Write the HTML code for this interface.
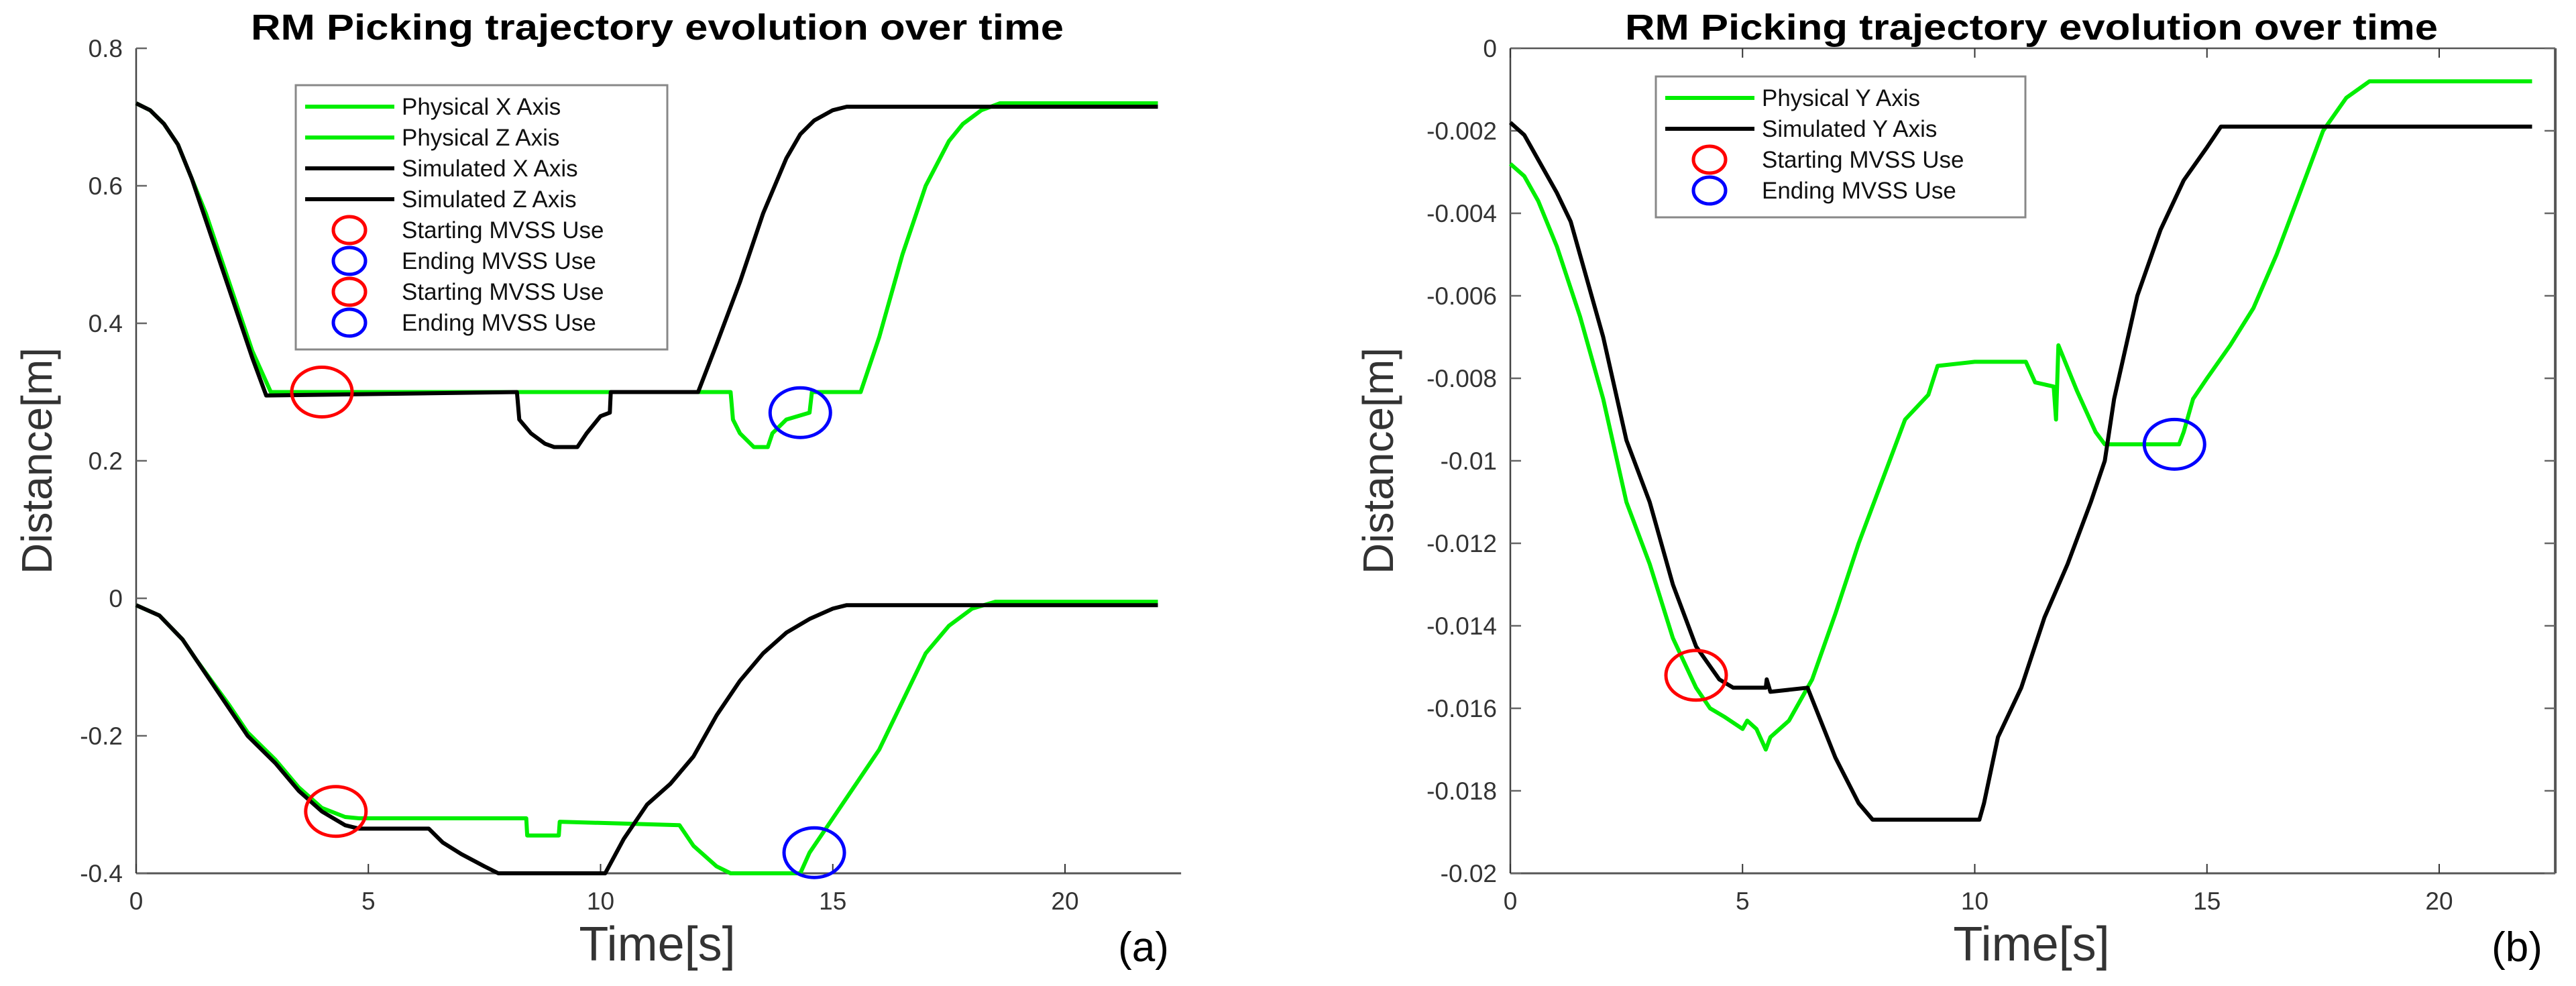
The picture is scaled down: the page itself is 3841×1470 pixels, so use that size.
<!DOCTYPE html>
<html><head><meta charset="utf-8"><style>
html,body{margin:0;padding:0;background:#fff}
svg{display:block;font-family:"Liberation Sans",Arial,sans-serif}
</style></head><body>
<svg id="fig" width="3841" height="1470" viewBox="0 0 3841 1470" xmlns="http://www.w3.org/2000/svg">
<rect width="3841" height="1470" fill="#fff"/>
<g id="pa"></g>
<g id="pb"></g>
</svg>
<script>
// ---- Panel (a) data ----
const simXt=[0,0.3,0.6,0.9,1.2,1.5,2,2.5,2.8,8.2,8.25,8.5,8.8,9.0,9.5,9.7,10.0,10.2,10.22,12.1,12.5,13,13.5,14,14.3,14.6,15,15.3,22];
const simXv=[0.72,0.71,0.69,0.66,0.61,0.55,0.45,0.35,0.295,0.30,0.26,0.24,0.225,0.22,0.22,0.24,0.265,0.27,0.30,0.30,0.37,0.46,0.56,0.64,0.675,0.695,0.71,0.715,0.715];
const phyXt=[0,0.3,0.6,0.9,1.2,1.5,2,2.5,2.9,12.8,12.85,13.0,13.3,13.6,13.7,14.0,14.5,14.55,15.6,16,16.5,17,17.5,17.8,18.2,18.6,22];
const phyXv=[0.72,0.71,0.69,0.66,0.61,0.56,0.46,0.36,0.30,0.30,0.26,0.24,0.22,0.22,0.24,0.26,0.27,0.30,0.30,0.38,0.50,0.60,0.665,0.69,0.71,0.72,0.72];
const simZt=[0,0.5,1,1.3,2,2.4,3,3.5,4,4.5,4.8,6.3,6.6,7,7.5,7.8,10.1,10.5,11,11.5,12,12.5,13,13.5,14,14.5,15,15.3,22];
const simZv=[-0.01,-0.025,-0.06,-0.09,-0.16,-0.20,-0.24,-0.28,-0.31,-0.33,-0.335,-0.335,-0.355,-0.372,-0.39,-0.40,-0.40,-0.35,-0.30,-0.27,-0.23,-0.17,-0.12,-0.08,-0.05,-0.03,-0.015,-0.01,-0.01];
const phyZt=[0,0.5,1,1.3,2,2.4,3,3.5,4,4.5,4.8,8.4,8.42,9.1,9.12,11.7,12,12.5,12.8,14.3,14.5,15,15.5,16,16.5,17,17.5,18,18.5,22];
const phyZv=[-0.01,-0.025,-0.06,-0.09,-0.155,-0.195,-0.235,-0.275,-0.305,-0.318,-0.32,-0.32,-0.345,-0.345,-0.325,-0.33,-0.36,-0.39,-0.40,-0.40,-0.37,-0.32,-0.27,-0.22,-0.15,-0.08,-0.04,-0.015,-0.005,-0.005];
const markAt=[4,14.3,4.3,14.6];
const markAv=[0.30,0.27,-0.31,-0.37];
const markAc=['#ff0000','#0000ff','#ff0000','#0000ff'];
const ticksA=[0.8,0.6,0.4,0.2,0,-0.2,-0.4];
const tickLabA=['0.8','0.6','0.4','0.2','0','-0.2','-0.4'];
const ticksX=[0,5,10,15,20];
// ---- Panel (b) data ----
const simYt=[0,0.3,0.6,1,1.3,2,2.5,3,3.5,4,4.5,4.8,5.5,5.52,5.6,6.4,7,7.5,7.8,10.1,10.2,10.5,11,11.5,12,12.5,12.8,13,13.5,14,14.5,15,15.3,22];
const simYv=[-0.0018,-0.0021,-0.0027,-0.0035,-0.0042,-0.0070,-0.0095,-0.0110,-0.0130,-0.0145,-0.0153,-0.0155,-0.0155,-0.0153,-0.0156,-0.0155,-0.0172,-0.0183,-0.0187,-0.0187,-0.0183,-0.0167,-0.0155,-0.0138,-0.0125,-0.0110,-0.0100,-0.0085,-0.0060,-0.0044,-0.0032,-0.0024,-0.0019,-0.0019];
const phyYt=[0,0.3,0.6,1,1.5,2,2.5,3,3.5,4,4.3,4.6,5,5.1,5.3,5.5,5.6,6,6.5,7,7.5,8,8.5,9,9.2,10,11.1,11.3,11.7,11.75,11.8,12.2,12.6,12.8,14.4,14.5,14.7,15,15.5,16,16.5,17,17.5,18,18.5,22];
const phyYv=[-0.0028,-0.0031,-0.0037,-0.0048,-0.0065,-0.0085,-0.0110,-0.0125,-0.0143,-0.0155,-0.0160,-0.0162,-0.0165,-0.0163,-0.0165,-0.0170,-0.0167,-0.0163,-0.0153,-0.0137,-0.0120,-0.0105,-0.0090,-0.0084,-0.0077,-0.0076,-0.0076,-0.0081,-0.0082,-0.0090,-0.0072,-0.0083,-0.0093,-0.0096,-0.0096,-0.0093,-0.0085,-0.0080,-0.0072,-0.0063,-0.0050,-0.0035,-0.0020,-0.0012,-0.0008,-0.0008];
const markBt=[4,14.3];
const markBv=[-0.0152,-0.0096];
const markBc=['#ff0000','#0000ff'];
const ticksB=[0,-0.002,-0.004,-0.006,-0.008,-0.01,-0.012,-0.014,-0.016,-0.018,-0.02];
const tickLabB=['0','-0.002','-0.004','-0.006','-0.008','-0.01','-0.012','-0.014','-0.016','-0.018','-0.02'];

const NS='http://www.w3.org/2000/svg';
function mk(parent,tag,attrs,text){const e=document.createElementNS(NS,tag);for(const k in attrs)e.setAttribute(k,attrs[k]);if(text!==undefined)e.textContent=text;parent.appendChild(e);return e;}

function panel(g,o){
  const X0=o.x0,X1=o.x0+22.5*69.25,Y0=72,Y1=1302;
  const sx=t=>X0+t*69.25;
  const sy=v=>Y0+(o.ymax-v)/(o.ymax-o.ymin)*(Y1-Y0);
  let a=mk(g,'line',{x1:X0,y1:Y0,x2:X0,y2:Y1,stroke:'#444','stroke-width':2.5});
  
  
  a=mk(g,'line',{x1:X0,y1:Y1,x2:X1,y2:Y1,stroke:'#555','stroke-width':3});
  
  
  if(o.box){
    a=mk(g,'line',{x1:X0,y1:Y0,x2:X1,y2:Y0,stroke:'#555','stroke-width':2.5});
    
    
    a=mk(g,'line',{x1:X1,y1:Y0,x2:X1,y2:Y1,stroke:'#555','stroke-width':4});
    
    
  }
  o.yt.forEach((v,i)=>{
    const y=sy(v);
    mk(g,'line',{x1:X0,y1:y,x2:X0+16,y2:y,stroke:'#666','stroke-width':2.5});
    if(o.box)mk(g,'line',{x1:X1,y1:y,x2:X1-16,y2:y,stroke:'#666','stroke-width':2.5});
    const t=mk(g,'text',{x:X0-20,y:y+13,'font-size':37,'text-anchor':'end',fill:'#333'},o.yl[i]);
    
    
  });
  ticksX.forEach(v=>{
    const x=sx(v);
    mk(g,'line',{x1:x,y1:Y1,x2:x,y2:Y1-14,stroke:'#333','stroke-width':2});
    if(o.box)mk(g,'line',{x1:x,y1:Y0,x2:x,y2:Y0+14,stroke:'#333','stroke-width':2});
    const t=mk(g,'text',{x:x,y:1356,'font-size':37,'text-anchor':'middle',fill:'#333'},String(v));
    
    
  });
  o.series.forEach(s=>{
    const d=s.t.map((t,i)=>(i?'L':'M')+sx(t).toFixed(1)+' '+sy(s.v[i]).toFixed(1)).join(' ');
    const p=mk(g,'path',{d:d,fill:'none',stroke:s.c,'stroke-width':6,'stroke-linejoin':'round'});
    
    
  });
  o.mt.forEach((t,i)=>{
    const e=mk(g,'ellipse',{cx:sx(t),cy:sy(o.mv[i]),rx:45,ry:37,fill:'none',stroke:o.mc[i],'stroke-width':5});
    
    
  });
  let t=mk(g,'text',{x:o.tcx,y:59,'font-size':54,'font-weight':'bold','text-anchor':'middle',fill:'#000',textLength:1212,lengthAdjust:'spacingAndGlyphs'},'RM Picking trajectory evolution over time');
  
  
  t=mk(g,'text',{x:o.ylx,y:687,'font-size':64,'text-anchor':'middle',fill:'#333',transform:'rotate(-90 '+o.ylx+' 687)'},'Distance[m]');
  
  
  t=mk(g,'text',{x:o.tcx,y:1432,'font-size':72,'text-anchor':'middle',fill:'#333'},'Time[s]');
  
  
  t=mk(g,'text',{x:o.lbx,y:1433,'font-size':62,'text-anchor':'middle',fill:'#000'},o.lab);
  
  
  const L=o.leg;
  const lg=mk(g,'g',{});
  
  
  mk(lg,'rect',{x:L.x,y:L.y,width:L.w,height:L.entries.length*46+26,fill:'#fff',stroke:'#888','stroke-width':3});
  L.entries.forEach((en,i)=>{
    const cy=L.y+32+i*46;
    const eg=mk(lg,'g',{});
    
    
    if(en.m)mk(eg,'ellipse',{cx:L.x+80,cy:cy,rx:24,ry:20,fill:'none',stroke:en.c,'stroke-width':5});
    else mk(eg,'line',{x1:L.x+14,y1:cy,x2:L.x+147,y2:cy,stroke:en.c,'stroke-width':6});
    mk(eg,'text',{x:L.x+158,y:cy+12,'font-size':35,fill:'#111'},en.n);
  });
}
panel(document.getElementById('pa'),{x0:203,ymax:0.8,ymin:-0.4,box:false,yt:ticksA,yl:tickLabA,
  series:[{t:phyXt,v:phyXv,c:'#00ee00',name:'physical-x-line'},{t:phyZt,v:phyZv,c:'#00ee00',name:'physical-z-line'},
          {t:simXt,v:simXv,c:'#000',name:'simulated-x-line'},{t:simZt,v:simZv,c:'#000',name:'simulated-z-line'}],
  mt:markAt,mv:markAv,mc:markAc,tcx:980,ylx:77,lbx:1705,lab:'(a)',
  leg:{x:441,y:127,w:554,entries:[{n:'Physical X Axis',c:'#00ee00'},{n:'Physical Z Axis',c:'#00ee00'},{n:'Simulated X Axis',c:'#000'},{n:'Simulated Z Axis',c:'#000'},
    {n:'Starting MVSS Use',c:'#ff0000',m:1},{n:'Ending MVSS Use',c:'#0000ff',m:1},{n:'Starting MVSS Use',c:'#ff0000',m:1},{n:'Ending MVSS Use',c:'#0000ff',m:1}]}});
panel(document.getElementById('pb'),{x0:2252,ymax:0,ymin:-0.02,box:true,yt:ticksB,yl:tickLabB,
  series:[{t:phyYt,v:phyYv,c:'#00ee00',name:'physical-y-line'},{t:simYt,v:simYv,c:'#000',name:'simulated-y-line'}],
  mt:markBt,mv:markBv,mc:markBc,tcx:3029,ylx:2077,lbx:3753,lab:'(b)',
  leg:{x:2469,y:114,w:551,entries:[{n:'Physical Y Axis',c:'#00ee00'},{n:'Simulated Y Axis',c:'#000'},{n:'Starting MVSS Use',c:'#ff0000',m:1},{n:'Ending MVSS Use',c:'#0000ff',m:1}]}});
</script>
</body></html>
